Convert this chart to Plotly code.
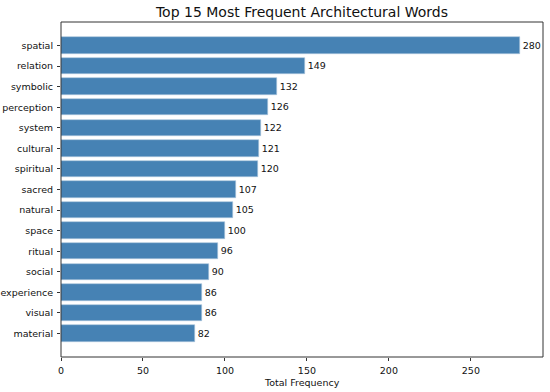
import plotly.graph_objects as go

# Word frequencies, most frequent first
words = ["spatial", "relation", "symbolic", "perception", "system",
         "cultural", "spiritual", "sacred", "natural", "space",
         "ritual", "social", "experience", "visual", "material"]
counts = [280, 149, 132, 126, 122, 121, 120, 107, 105, 100, 96, 90, 86, 86, 82]

n = len(words)
ypos = [n - 1 - i for i in range(n)]

fig = go.Figure()

fig.add_trace(go.Bar(
    x=counts, y=ypos,
    orientation='h',
    width=0.8,
    marker=dict(color='#4682B4', line=dict(color='#a9c4dc', width=0.6)),
    text=[str(c) for c in counts],
    textposition='outside',
    textfont=dict(family='DejaVu Sans', size=9.5, color='#111111'),
    cliponaxis=False,
    showlegend=False,
))

fig.update_layout(
    width=550, height=392,
    margin=dict(l=61, r=7, t=22, b=35),
    plot_bgcolor='white',
    paper_bgcolor='white',
    font=dict(family='DejaVu Sans', size=9.5, color='#111111'),
    title=dict(text="Top 15 Most Frequent Architectural Words",
               x=(61 + 543) / 2 / 550, xanchor='center',
               y=1 - 12 / 392, yanchor='middle',
               font=dict(size=14, color='#111111')),
    bargap=0,
)

# axes frame (all four sides)
fig.add_shape(type='rect', xref='paper', yref='paper',
              x0=0, x1=1, y0=0, y1=1,
              line=dict(color='#333333', width=1), layer='above')

# x-axis label placed by hand so the plot box keeps its size
fig.add_annotation(
    text="Total Frequency", showarrow=False,
    xref='paper', yref='paper', x=0.5, y=-25 / 335,
    xanchor='center', yanchor='middle',
    font=dict(size=9.5, color='#111111'),
)

fig.update_xaxes(
    range=[0, 294],
    tickvals=[0, 50, 100, 150, 200, 250],
    ticks='outside', ticklen=3, tickcolor='#333333',
    ticklabelstandoff=2,
    showgrid=False, zeroline=False, automargin=False,
    showline=False,
)
fig.update_yaxes(
    range=[-1.14, n - 1 + 1.14],
    tickvals=ypos, ticktext=words,
    ticks='outside', ticklen=3, tickcolor='#333333',
    ticklabelstandoff=2,
    showgrid=False, zeroline=False, automargin=False,
    showline=False,
)

# drop the default page margin so the figure sits at the window's corner
fig.write_html("out.html", config={'displayModeBar': False},
               post_script="document.body.style.margin='0';")
